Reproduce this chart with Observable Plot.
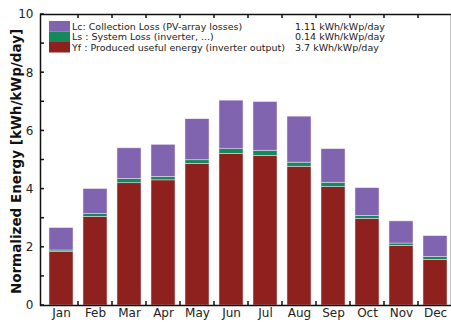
<!DOCTYPE html>
<html>
<head>
<meta charset="utf-8">
<script src="https://cdn.jsdelivr.net/npm/d3@7"></script>
<script src="https://cdn.jsdelivr.net/npm/@observablehq/plot@0.6"></script>
<style>
  html, body { margin: 0; padding: 0; background: #fff; }
  #chart svg { display: block; overflow: hidden; }
</style>
</head>
<body>
<div id="chart"></div>
<script>
const months = ["Jan","Feb","Mar","Apr","May","Jun","Jul","Aug","Sep","Oct","Nov","Dec"];
const yf = [1.83, 3.05, 4.20, 4.30, 4.87, 5.21, 5.14, 4.77, 4.07, 2.98, 2.05, 1.57];
const ls = [0.06, 0.09, 0.15, 0.12, 0.12, 0.16, 0.18, 0.14, 0.15, 0.10, 0.08, 0.10];
const lc = [0.77, 0.86, 1.05, 1.10, 1.41, 1.67, 1.67, 1.58, 1.15, 0.95, 0.76, 0.71];
const seriesKeys = ["Yf", "Ls", "Lc"];
const seriesColors = ["#8e201d", "#14895a", "#8064b0"];
const legendLabels = [
  "Lc: Collection Loss (PV-array losses)",
  "Ls : System Loss (inverter, ...)",
  "Yf : Produced useful energy (inverter output)"
];
const legendValues = ["1.11 kWh/kWp/day", "0.14 kWh/kWp/day", "3.7 kWh/kWp/day"];
const legendKeys = ["Lc", "Ls", "Yf"];
const yTicks = [0, 2, 4, 6, 8, 10];
const yMinorTicks = [0,1,2,3,4,5,6,7,8,9,10];
const yLabel = "Normalized Energy [kWh/kWp/day]";

const rows = [];
months.forEach((m, i) => {
  rows.push({month: m, series: "Yf", value: yf[i]});
  rows.push({month: m, series: "Ls", value: ls[i]});
  rows.push({month: m, series: "Lc", value: lc[i]});
});

const W = 451, H = 322, mL = 40, mT = 14, mB = 17;
const chart = Plot.plot({
  width: W, height: H,
  marginLeft: mL, marginTop: mT, marginBottom: mB, marginRight: 0,
  style: {fontFamily: "DejaVu Sans", fontSize: "12px", color: "#222", background: "#fff"},
  x: {domain: months, range: [mL, 456], paddingInner: 0.29, paddingOuter: 0.145, label: null},
  y: {domain: [0, 10], label: null},
  color: {domain: seriesKeys, range: seriesColors},
  marks: [
    Plot.barY(rows, {x: "month", y: "value", fill: "series", order: seriesKeys, stroke: "#ece6f4", strokeWidth: 0.5}),
    Plot.axisY({ticks: yTicks, tickSize: 0, tickPadding: 7, fontSize: 12}),
    Plot.axisX({tickSize: 0, tickPadding: 3, fontSize: 12}),
    Plot.frame({stroke: "#111", strokeWidth: 1.5})
  ]
});
document.getElementById("chart").appendChild(chart);

const svg = d3.select(chart);
const xs = chart.scale("x"), ys = chart.scale("y");
const g = svg.append("g").attr("stroke", "#111").attr("stroke-width", 1.5);
// inward y ticks
yMinorTicks.forEach(v => {
  const y = ys.apply(v);
  g.append("line").attr("x1", mL).attr("x2", mL + 4).attr("y1", y).attr("y2", y);
});
// inward x ticks at band boundaries (top and bottom)
const gap = xs.step - xs.bandwidth;
months.slice(1).forEach(m => {
  const x = xs.apply(m) - gap / 2;
  g.append("line").attr("x1", x).attr("x2", x).attr("y1", H - mB).attr("y2", H - mB - 4);
  g.append("line").attr("x1", x).attr("x2", x).attr("y1", mT).attr("y2", mT + 4);
});
// y label
svg.append("text")
  .attr("transform", `translate(21,${(mT + H - mB) / 2 + 2}) rotate(-90)`)
  .attr("text-anchor", "middle")
  .attr("font-family", "DejaVu Sans")
  .attr("font-weight", "bold")
  .attr("font-size", 13.5)
  .attr("fill", "#111")
  .text(yLabel);
// legend
const lg = svg.append("g").attr("font-family", "DejaVu Sans").attr("font-size", 9.5)
  .attr("fill", "#222").attr("text-anchor", "start");
legendKeys.forEach((k, i) => {
  const top = 21 + i * 10.5;
  lg.append("rect").attr("x", 49).attr("y", top).attr("width", 21).attr("height", 10.5)
    .attr("fill", seriesColors[seriesKeys.indexOf(k)]);
  lg.append("text").attr("x", 72).attr("y", top + 8.5).text(legendLabels[i]);
  lg.append("text").attr("x", 295).attr("y", top + 8.5).text(legendValues[i]);
});
</script>
</body>
</html>
